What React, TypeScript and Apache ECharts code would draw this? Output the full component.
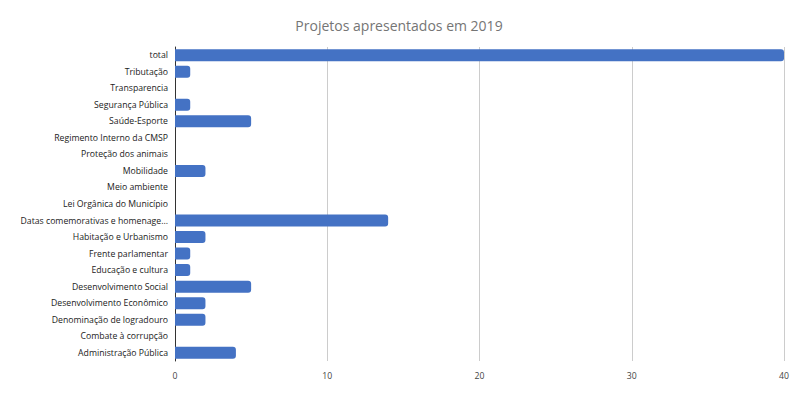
import React, { useEffect, useRef } from "react";
import * as echarts from "echarts";

const categories = [
  "total",
  "Tributação",
  "Transparencia",
  "Segurança Pública",
  "Saúde-Esporte",
  "Regimento Interno da CMSP",
  "Proteção dos animais",
  "Mobilidade",
  "Meio ambiente",
  "Lei Orgânica do Município",
  "Datas comemorativas e homenage...",
  "Habitação e Urbanismo",
  "Frente parlamentar",
  "Educação e cultura",
  "Desenvolvimento Social",
  "Desenvolvimento Econômico",
  "Denominação de logradouro",
  "Combate à corrupção",
  "Administração Pública",
];
const values = [40, 1, 0, 1, 5, 0, 0, 2, 0, 0, 14, 2, 1, 1, 5, 2, 2, 0, 4];
const xTicks = [0, 10, 20, 30, 40];

export default function App() {
  const ref = useRef<HTMLDivElement>(null);
  useEffect(() => {
    const chart = echarts.init(ref.current!, null, { renderer: "svg" });
    chart.setOption({
      animation: false,
      backgroundColor: "#ffffff",
      title: {
        text: "Projetos apresentados em 2019",
        left: "center",
        top: 13,
        textStyle: { fontFamily: "Open Sans", fontSize: 14, fontWeight: "normal", color: "#757575" },
      },
      grid: { left: 175, right: 14, top: 47, bottom: 32, containLabel: false },
      xAxis: {
        type: "value",
        min: xTicks[0],
        max: xTicks[xTicks.length - 1],
        interval: 10,
        axisLine: { show: false },
        axisTick: { show: false },
        splitLine: { show: true, lineStyle: { color: "#cccccc", width: 1 } },
        axisLabel: { fontFamily: "Open Sans", fontSize: 8.7, color: "#444444", margin: 10 },
      },
      yAxis: {
        type: "category",
        data: categories,
        inverse: true,
        axisLine: { show: true, lineStyle: { color: "#333333", width: 1 } },
        axisTick: { show: false },
        splitLine: { show: false },
        axisLabel: { fontFamily: "Open Sans", fontSize: 8.7, color: "#222222", margin: 7, interval: 0 },
      },
      series: [
        {
          type: "bar",
          data: values,
          barWidth: 12,
          itemStyle: { color: "#4472c4", borderRadius: [0, 3, 3, 0] },
        },
      ],
    });
    return () => chart.dispose();
  }, []);
  return <div ref={ref} style={{ width: 798, height: 393, margin: -8 }} />;
}
